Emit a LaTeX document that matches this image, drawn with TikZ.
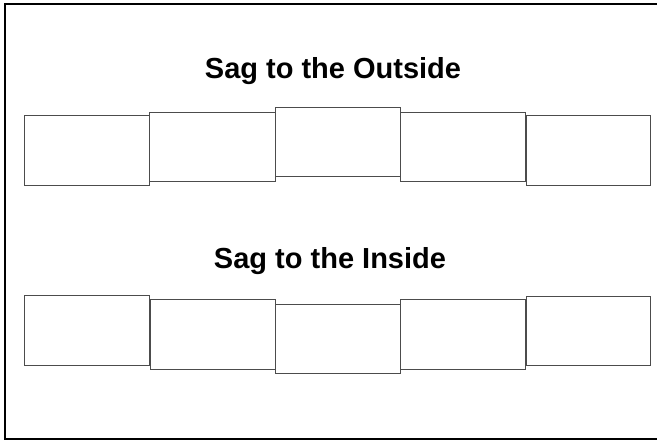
\documentclass[tikz,border=0pt]{standalone}
\usepackage{fontspec}
\setmainfont{Liberation Sans}
\begin{document}
\begin{tikzpicture}[x=1pt,y=-1pt,
		block/.style={draw=black!70,line width=0.9pt},
		heading/.style={font=\bfseries\fontsize{29}{34}\selectfont,anchor=base}]
	\useasboundingbox (0,0) rectangle (657,440);
	% frame, cut off on the right
	\draw[line width=2pt] (662,4) -- (5,4) -- (5,439) -- (662,439);
	\node[heading] (outside) at (333,78) {Sag to the Outside};
	\node[heading] (inside) at (330,268) {Sag to the Inside};
	% outward sag
	\foreach \xa/\ya/\xb/\yb in {%
		24/115/149/185, 149/112/275/181, 275/107/400/176,%
		400/112/525/181, 526/115/650/185%
	}{
		\draw[block] (\xa,\ya) rectangle (\xb,\yb);
	}
	% inward sag
	\foreach \xa/\ya/\xb/\yb in {%
		24/295/149/365, 150/299/275/369, 275/304/400/373,%
		400/299/525/369, 526/296/650/365%
	}{
		\draw[block] (\xa,\ya) rectangle (\xb,\yb);
	}
\end{tikzpicture}
\end{document}
